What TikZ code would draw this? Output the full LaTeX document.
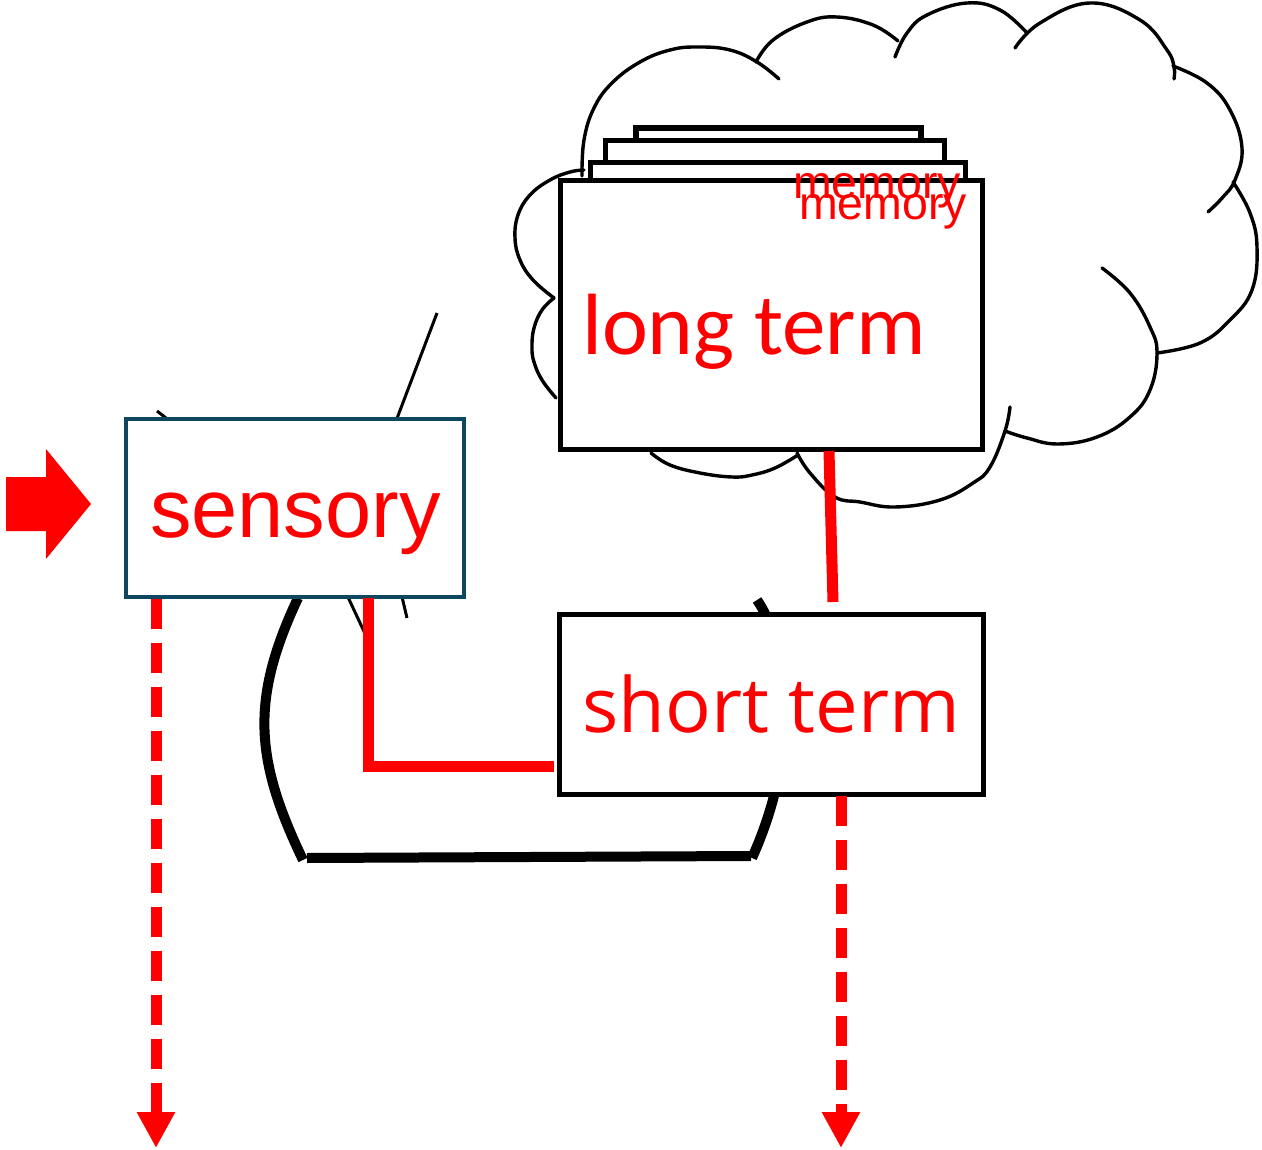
\documentclass[tikz,border=0pt]{standalone}
\usepackage{fontspec}
\setmainfont{Liberation Sans}
\newfontfamily\calibfont{Carlito}
\newfontfamily\osfont{Open Sans}
\usetikzlibrary{arrows.meta}
\definecolor{boxteal}{HTML}{0F4761}
\definecolor{pptred}{HTML}{FF0000}
\begin{document}
\begin{tikzpicture}[x=1pt,y=-1pt,
  cloudline/.style={line width=3.4pt, line cap=round},
  layerbox/.style={draw=black, line width=5.5pt, fill=white},
  blackbox/.style={draw=black, line width=5.5pt, fill=white, inner sep=0pt},
  thinline/.style={draw=black, line width=3pt},
  thickline/.style={draw=black, line width=10pt},
  redline/.style={draw=pptred, line width=11pt},
  reddash/.style={draw=pptred, line width=11pt, dash pattern=on 30pt off 14pt, -{Triangle[width=36pt,length=36pt]}},
  redtext/.style={text=pptred, inner sep=0pt, anchor=base west}]
\useasboundingbox (0,0) rectangle (1262,1150);
% cloud
\begin{scope}[cloudline]
\draw plot[smooth, tension=0.7] coordinates {(582,176) (584,140) (594,108) (612,83) (640,62) (670,50) (698,47) (730,50) (757,62) (779,79)};
\draw plot[smooth, tension=0.7] coordinates {(756,62) (773,40) (807,22) (837,17) (873,25) (898,41)};
\draw plot[smooth, tension=0.7] coordinates {(895,57) (907,33) (927,15) (967,3) (1000,10) (1027,33)};
\draw plot[smooth, tension=0.7] coordinates {(1015,48) (1040,23) (1090,3) (1140,20) (1167,50) (1174,67) (1174,79)};
\draw plot[smooth, tension=0.7] coordinates {(1173,66) (1207,83) (1230,110) (1242,148) (1235,180) (1223,197) (1208,212)};
\draw plot[smooth, tension=0.7] coordinates {(1233,182) (1250,213) (1257,247) (1252,290) (1230,320) (1200,343) (1157,353)};
\draw plot[smooth, tension=0.7] coordinates {(1102,268) (1130,293) (1150,327) (1157,353) (1150,390) (1130,417) (1097,437) (1058,444) (1027,438) (1005,431)};
\draw plot[smooth, tension=0.7] coordinates {(1010,407) (1005,431) (990,467) (973,483) (940,500) (895,507) (860,502) (835,497) (810,473) (797,453)};
\draw plot[smooth, tension=0.7] coordinates {(798,455) (775,468) (752,475) (732,477) (700,473) (670,465) (651,453)};
\draw plot[smooth, tension=0.7] coordinates {(556,398) (542,380) (534,362) (532,347) (534,328) (542,310) (554,298)};
\draw plot[smooth, tension=0.7] coordinates {(554,298) (533,280) (520,260) (515,238) (518,215) (530,195) (550,180) (570,172) (584,170)};
\end{scope}
% stacked layers behind long term
\draw[layerbox] (636,128) rectangle (921,165);
\draw[layerbox] (605.5,140.5) rectangle (944.5,175);
\draw[layerbox] (590.5,162.5) rectangle (965.5,190);
\node[blackbox, minimum width=422pt, minimum height=269pt] (lt) at (771.5,315) {};
% thin fragments
\draw[thinline] (437,313) -- (385,450);
\draw[thinline] (157,411) -- (175,425);
\draw[thinline] (398,580) -- (407,618);
\draw[thinline] (340,580) -- (368,640);
% thick black loop
\draw[thickline] (298,598) .. controls (250,700) and (255,760) .. (303,860);
\draw[thickline] (307,858) -- (751,856);
\draw[thickline] (757,600) .. controls (785,640) and (805,740) .. (752,858);
% boxes
\node[draw=boxteal, line width=4.5pt, fill=white, inner sep=0pt, minimum width=338pt, minimum height=178pt] (sens) at (295,508) {};
\node[blackbox, minimum width=424pt, minimum height=180pt] (st) at (771.5,704.5) {};
% input block arrow
\fill[pptred] (6,477) -- (46,477) -- (46,449) -- (91,504) -- (46,559) -- (46,531) -- (6,531) -- cycle;
% red connectors
\coordinate (ltout) at (829,451);
\coordinate (stin) at (833,602);
\draw[redline] (ltout) -- (stin);
\coordinate (sensout) at (368,598);
\coordinate (stleft) at (554,766);
\draw[redline] (sensout) -- (368,766) -- (stleft);
\coordinate (sensdown) at (156,599);
\coordinate (lend) at (156,1148);
\draw[reddash] (sensdown) -- (lend);
\coordinate (stdown) at (841,796);
\coordinate (rend) at (841,1148);
\draw[reddash] (stdown) -- (rend);
% texts
\node[redtext, font=\fontsize{83}{90}\selectfont] (senslabel) at (150,537) {sensory};
\node[redtext, font=\osfont\fontsize{76}{84}\selectfont] (stlabel) at (582,732) {short term};
\node[redtext, font=\calibfont\fontsize{87}{92}\selectfont] (ltlabel) at (582,355) {long term};
\node[redtext, font=\fontsize{46.5}{50}\selectfont] (mem1) at (793,199) {memory};
\node[redtext, font=\fontsize{46.5}{50}\selectfont] (mem2) at (799,220) {memory};
\end{tikzpicture}
\end{document}
